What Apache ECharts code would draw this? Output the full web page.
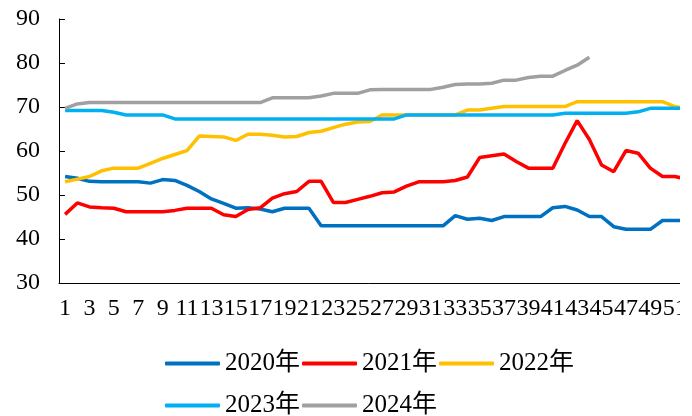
<!DOCTYPE html>
<html>
<head>
<meta charset="utf-8">
<script src="https://cdn.jsdelivr.net/npm/echarts@6/dist/echarts.min.js"></script>
</head>
<body style="margin:0;background:#fff">
<div id="chart" style="width:680px;height:416px"></div>
<script>
// 周次 1-52
var weeks = [];
for (var w = 1; w <= 52; w++) weeks.push(String(w));

var y2020 = [54.2, 53.8, 53.1, 53.0, 53.0, 53.0, 53.0, 52.7, 53.5, 53.3,
    52.2, 50.8, 49.1, 48.1, 47.0, 47.1, 46.8, 46.2, 47.0, 47.0,
    47.0, 43.0, 43.0, 43.0, 43.0, 43.0, 43.0, 43.0, 43.0, 43.0,
    43.0, 43.0, 45.3, 44.5, 44.7, 44.2, 45.1, 45.1, 45.1, 45.1,
    47.1, 47.4, 46.6, 45.1, 45.1, 42.8, 42.2, 42.2, 42.2, 44.2,
    44.2, 44.2];
var y2021 = [45.6, 48.2, 47.3, 47.1, 47.0, 46.2, 46.2, 46.2, 46.2, 46.5,
    47.0, 47.0, 47.0, 45.5, 45.1, 46.7, 47.1, 49.3, 50.3, 50.8,
    53.1, 53.1, 48.3, 48.3, 49.0, 49.7, 50.5, 50.7, 52.0, 53.0,
    53.0, 53.0, 53.3, 54.1, 58.5, 58.9, 59.3, 57.6, 56.1, 56.1,
    56.1, 61.7, 66.9, 62.6, 56.8, 55.3, 60.1, 59.5, 56.1, 54.2,
    54.2, 53.6];
var y2022 = [53.0, 53.6, 54.2, 55.5, 56.1, 56.1, 56.1, 57.2, 58.3, 59.2,
    60.1, 63.4, 63.3, 63.2, 62.4, 63.8, 63.8, 63.6, 63.2, 63.3,
    64.2, 64.5, 65.3, 66.1, 66.6, 66.7, 68.2, 68.2, 68.2, 68.2,
    68.2, 68.2, 68.2, 69.3, 69.3, 69.7, 70.1, 70.1, 70.1, 70.1,
    70.1, 70.1, 71.2, 71.2, 71.2, 71.2, 71.2, 71.2, 71.2, 71.2,
    70.1, 69.6];
var y2023 = [69.2, 69.2, 69.2, 69.2, 68.8, 68.2, 68.2, 68.2, 68.2, 67.3,
    67.3, 67.3, 67.3, 67.3, 67.3, 67.3, 67.3, 67.3, 67.3, 67.3,
    67.3, 67.3, 67.3, 67.3, 67.3, 67.3, 67.3, 67.3, 68.2, 68.2,
    68.2, 68.2, 68.2, 68.2, 68.2, 68.2, 68.2, 68.2, 68.2, 68.2,
    68.2, 68.6, 68.6, 68.6, 68.6, 68.6, 68.6, 68.9, 69.7, 69.7,
    69.7, 69.7];
var y2024 = [69.7, 70.7, 71.0, 71.0, 71.0, 71.0, 71.0, 71.0, 71.0, 71.0,
    71.0, 71.0, 71.0, 71.0, 71.0, 71.0, 71.0, 72.1, 72.1, 72.1,
    72.1, 72.5, 73.1, 73.1, 73.1, 73.9, 74.0, 74.0, 74.0, 74.0,
    74.0, 74.5, 75.1, 75.2, 75.2, 75.4, 76.1, 76.1, 76.7, 77.0,
    77.0, 78.3, 79.5, 81.3];

var names = ['2020年', '2021年', '2022年', '2023年', '2024年'];
var colors = ['#0070C0', '#FF0000', '#FFC000', '#00B0F0', '#A0A0A0'];
var values = [y2020, y2021, y2022, y2023, y2024];

var font = "'Liberation Serif', 'Noto Sans CJK SC', serif";

var myChart = echarts.init(document.getElementById('chart'));

var legendBase = {
    left: 160,
    icon: 'roundRect',
    itemWidth: 55,
    itemHeight: 4,
    itemGap: 2,
    textStyle: { fontSize: 25, fontFamily: font, color: '#000' }
};

var option = {
    animation: false,
    color: colors,
    grid: { left: 59, top: 19, width: 634, height: 264, outerBoundsMode: 'none' },
    legend: [
        Object.assign({}, legendBase, { top: 346, data: names.slice(0, 3) }),
        Object.assign({}, legendBase, { top: 388, data: names.slice(3) })
    ],
    xAxis: {
        type: 'category',
        data: weeks,
        boundaryGap: true,
        axisLine: { lineStyle: { color: '#000', width: 1 } },
        axisTick: { inside: true, length: 6, interval: 0, lineStyle: { color: '#000' } },
        axisLabel: { interval: 1, margin: 14, fontSize: 24, fontFamily: font, color: '#000' },
        splitLine: { show: false }
    },
    yAxis: {
        type: 'value',
        min: 30,
        max: 90,
        interval: 10,
        axisLine: { show: true, lineStyle: { color: '#000', width: 1 } },
        axisTick: { show: true, inside: true, length: 6, lineStyle: { color: '#000' } },
        axisLabel: { margin: 19, fontSize: 24, fontFamily: font, color: '#000' },
        splitLine: { show: false }
    },
    series: values.map(function (d, i) {
        return {
            name: names[i],
            type: 'line',
            data: d,
            symbol: 'none',
            lineStyle: { width: 3.5, color: colors[i] },
            itemStyle: { color: colors[i] }
        };
    })
};

myChart.setOption(option);
</script>
</body>
</html>
